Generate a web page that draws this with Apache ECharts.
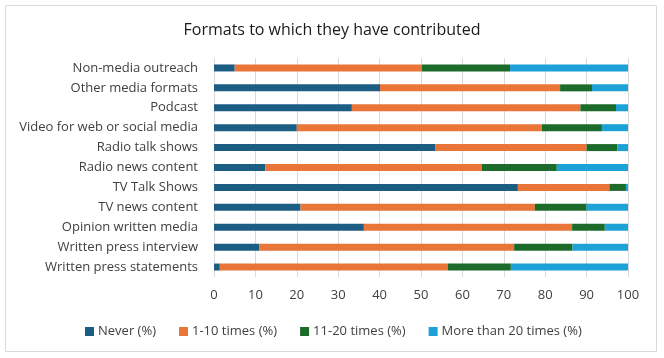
<!DOCTYPE html>
<html>
<head>
<meta charset="utf-8">
<style>html,body{margin:0;padding:0;background:#fff}#c{width:664px;height:358px}</style>
<script src="https://cdn.jsdelivr.net/npm/echarts@6/dist/echarts.min.js"></script>
</head>
<body>
<div id="c"></div>
<script>
const categories = ["Non-media outreach","Other media formats","Podcast","Video for web or social media","Radio talk shows","Radio news content","TV Talk Shows","TV news content","Opinion written media","Written press interview","Written press statements"];
const never = [5, 40.1, 33.3, 20, 53.4, 12.4, 73.4, 20.9, 36.2, 10.9, 1.4];
const times1to10 = [45.2, 43.5, 55.2, 59.2, 36.6, 52.3, 22.1, 56.6, 50.3, 61.6, 55.1];
const times11to20 = [21.3, 7.7, 8.6, 14.5, 7.4, 18.1, 4.0, 12.5, 7.9, 14.1, 15.2];
const moreThan20 = [28.5, 8.7, 2.9, 6.3, 2.6, 17.2, 0.5, 10.0, 5.6, 13.4, 28.3];
const seriesNames = ["Never (%)","1-10 times (%)","11-20 times (%)","More than 20 times (%)"];
const xTicks = [0,10,20,30,40,50,60,70,80,90,100];

const colors = ['#1c5d84','#ea7539','#1d6b2a','#1da2d8'];
const font = '"Open Sans", sans-serif';
const chart = echarts.init(document.getElementById('c'), null, {renderer:'canvas'});
const dataSets = [never, times1to10, times11to20, moreThan20];
chart.setOption({
  animation:false,
  title:{text:'Formats to which they have contributed',left:'center',top:17,textStyle:{fontFamily:font,fontSize:16,fontWeight:'normal',color:'#1a1a1a'}},
  graphic:[{type:'rect',shape:{x:5.5,y:5.5,width:651,height:346},style:{fill:'none',stroke:'#d9d9d9',lineWidth:1},silent:true}],
  legend:{left:80,top:320,itemWidth:9,itemHeight:9,itemGap:23,icon:'rect',data:seriesNames,textStyle:{fontFamily:font,fontSize:13,color:'#404040',padding:[0,0,0,-1]}},
  grid:{left:214,right:36,top:58,bottom:81},
  xAxis:{type:'value',min:0,max:100,interval:10,
    axisLine:{show:false},axisTick:{show:false},
    splitLine:{lineStyle:{color:'#d9d9d9'}},
    axisLabel:{margin:12,fontFamily:font,fontSize:13,color:'#404040',formatter:v=>xTicks.includes(v)?String(v):''}},
  yAxis:{type:'category',data:categories,inverse:true,
    axisLine:{show:false},axisTick:{show:false},
    axisLabel:{margin:16,fontFamily:font,fontSize:13,color:'#404040'}},
  series: seriesNames.map((n,i)=>({name:n,type:'bar',stack:'total',barWidth:7,data:dataSets[i],itemStyle:{color:colors[i]}}))
});
</script>
</body>
</html>
